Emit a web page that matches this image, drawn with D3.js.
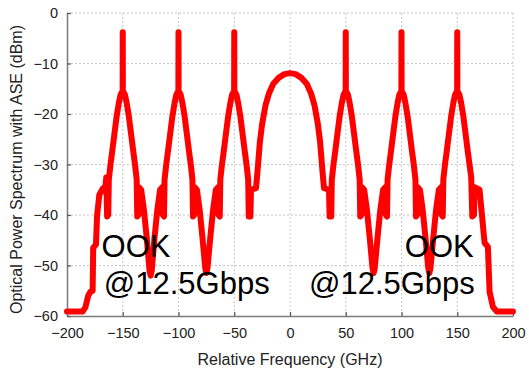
<!DOCTYPE html>
<html>
<head>
<meta charset="utf-8">
<script src="https://cdn.jsdelivr.net/npm/d3@7"></script>
<style>
  body { margin: 0; background: #fff; }
  svg { display: block; font-family: "Liberation Sans", Arial, sans-serif; }
</style>
</head>
<body>
<svg width="529" height="368"></svg>
<script>
// spectrum: [relative frequency (GHz), power (dBm)]
var spectrum = [
  [-200,-59.1],[-186,-59.1],[-183.5,-58.3],[-181,-56],[-179,-55.2],[-177,-55],[-176.5,-46.5],[-174,-45.8],
  [-173,-40],[-171,-36],[-168,-34.8],[-165.5,-34.3],[-164.8,-32.6],[-164,-40.3],[-163,-40],[-162.5,-33],
  // -150 channel
  [-161,-30],[-159.5,-27.5],[-157.5,-24],[-155.5,-20.5],[-153.5,-17.8],[-152,-16.2],[-150.6,-15.6],[-150.1,-15.5],
  [-150,-3.8],[-149.9,-15.5],[-149.4,-15.6],[-148,-16.2],[-146.5,-17.8],[-144.5,-20.5],[-142.5,-24],[-140.5,-27.5],
  [-139,-30],[-137.5,-33],[-137,-40.3],[-136,-40],[-135.5,-34.5],[-133.5,-35],
  [-131,-39],[-128.5,-44.5],[-126,-51],[-125,-52],[-124,-51],[-121.5,-44.5],[-119,-39],[-116.5,-35],
  [-114.5,-34.5],[-114,-40],[-113,-40.3],[-112.5,-33],
  // -100 channel
  [-111,-30],[-109.5,-27.5],[-107.5,-24],[-105.5,-20.5],[-103.5,-17.8],[-102,-16.2],[-100.6,-15.6],[-100.1,-15.5],
  [-100,-3.8],[-99.9,-15.5],[-99.4,-15.6],[-98,-16.2],[-96.5,-17.8],[-94.5,-20.5],[-92.5,-24],[-90.5,-27.5],
  [-89,-30],[-87.5,-33],[-87,-40.3],[-86,-40],[-85.5,-34.5],[-83.5,-35],
  [-81,-39],[-78.5,-44.5],[-76,-50.5],[-75,-51.5],[-74,-50.5],[-71.5,-44.5],[-69,-39],[-66.5,-35],
  [-64.5,-34.5],[-64,-40],[-63,-40.3],[-62.5,-33],
  // -50 channel
  [-61,-30],[-59.5,-27.5],[-57.5,-24],[-55.5,-20.5],[-53.5,-17.8],[-52,-16.2],[-50.6,-15.6],[-50.1,-15.5],
  [-50,-3.8],[-49.9,-15.5],[-49.4,-15.6],[-48,-16.2],[-46.5,-17.8],[-44.5,-20.5],[-42.5,-24],[-40.5,-27.5],
  [-39,-30],[-37.5,-33],[-37,-40.3],[-35.5,-40.3],[-35,-35],[-30.5,-34.7],
  // centre lobe
  [-29,-31],[-27,-25.5],[-25,-22],[-22,-18.3],[-19,-16],[-15,-14],[-10,-12.8],[-5,-12.1],[0,-11.9],
  [5,-12.1],[10,-12.8],[15,-14],[19,-16],[22,-18.3],[25,-22],[27,-25.5],[29,-31],
  [30.5,-34.7],[35,-35],[35.5,-40.3],[37,-40.3],[37.5,-33],
  // 50 channel
  [39,-30],[40.5,-27.5],[42.5,-24],[44.5,-20.5],[46.5,-17.8],[48,-16.2],[49.4,-15.6],[49.9,-15.5],
  [50,-3.8],[50.1,-15.5],[50.6,-15.6],[52,-16.2],[53.5,-17.8],[55.5,-20.5],[57.5,-24],[59.5,-27.5],
  [61,-30],[62.5,-33],[63,-40.3],[64,-40],[64.5,-34.5],[66.5,-35],
  [69,-39],[71.5,-44.5],[74,-50.5],[75,-51.5],[76,-50.5],[78.5,-44.5],[81,-39],[83.5,-35],
  [85.5,-34.5],[86,-40],[87,-40.3],[87.5,-33],
  // 100 channel
  [89,-30],[90.5,-27.5],[92.5,-24],[94.5,-20.5],[96.5,-17.8],[98,-16.2],[99.4,-15.6],[99.9,-15.5],
  [100,-3.8],[100.1,-15.5],[100.6,-15.6],[102,-16.2],[103.5,-17.8],[105.5,-20.5],[107.5,-24],[109.5,-27.5],
  [111,-30],[112.5,-33],[113,-40.3],[114,-40],[114.5,-34.5],[116.5,-35],
  [119,-39],[121.5,-44.5],[124,-50.5],[125,-51.5],[126,-50.5],[128.5,-44.5],[131,-39],[133.5,-35],
  [135.5,-34.5],[136,-40],[137,-40.3],[137.5,-33],
  // 150 channel
  [139,-30],[140.5,-27.5],[142.5,-24],[144.5,-20.5],[146.5,-17.8],[148,-16.2],[149.4,-15.6],[149.9,-15.5],
  [150,-3.8],[150.1,-15.5],[150.6,-15.6],[152,-16.2],[153.5,-17.8],[155.5,-20.5],[157.5,-24],[159.5,-27.5],
  [161,-30],[162.5,-32.5],[163.5,-40.3],[165,-40],[165.5,-34.5],[170,-35],
  [174.5,-45.5],[177.5,-46.3],[179,-55.2],[182,-58.2],[185.5,-59.1],[200,-59.1]
];

var xTicks = [-200,-150,-100,-50,0,50,100,150,200];
var yTicks = [-60,-50,-40,-30,-20,-10,0];
var notes = [
  {f: -169, db: -48.3, text: "OOK"},
  {f: -167, db: -55.6, text: "@12.5Gbps"},
  {f: 103, db: -48.3, text: "OOK"},
  {f: 17, db: -55.6, text: "@12.5Gbps"}
];

var svg = d3.select("svg");
var x = d3.scaleLinear().domain([-200, 200]).range([67, 513]);
var y = d3.scaleLinear().domain([-60, 0]).range([316, 13]);

// dotted grid
svg.append("g").selectAll("line").data(xTicks.slice(1)).join("line")
  .attr("x1", d => x(d)).attr("x2", d => x(d))
  .attr("y1", y(0)).attr("y2", y(-60))
  .attr("stroke", "#c8c8c8").attr("stroke-dasharray", "2,2");
svg.append("g").selectAll("line").data(yTicks.slice(1)).join("line")
  .attr("x1", x(-200)).attr("x2", x(200))
  .attr("y1", d => y(d)).attr("y2", d => y(d))
  .attr("stroke", "#c8c8c8").attr("stroke-dasharray", "2,2");

// axes, ticks pointing inward
var xAxis = svg.append("g").attr("transform", "translate(0," + y(-60) + ")")
  .call(d3.axisBottom(x).tickValues(xTicks).tickSizeInner(-4).tickSizeOuter(0).tickPadding(12));
var yAxis = svg.append("g").attr("transform", "translate(" + x(-200) + ",0)")
  .call(d3.axisLeft(y).tickValues(yTicks).tickSizeInner(-4).tickSizeOuter(0).tickPadding(9));
[xAxis, yAxis].forEach(function(g){
  g.select(".domain").attr("stroke", "#7a7a7a").attr("stroke-width", 1.5);
  g.selectAll(".tick line").attr("stroke", "#555").attr("stroke-width", 1.2);
  g.selectAll(".tick text").attr("fill", "#222").attr("font-size", 14.5)
    .attr("font-family", "Liberation Sans, Arial, sans-serif");
});

// spectrum trace
var line = d3.line().x(d => x(d[0])).y(d => y(d[1]));
svg.append("path").datum(spectrum)
  .attr("d", line)
  .attr("fill", "none")
  .attr("stroke", "#ff0000")
  .attr("stroke-width", 6)
  .attr("stroke-linejoin", "round")
  .attr("stroke-linecap", "round");

// annotations
svg.append("g").selectAll("text").data(notes).join("text")
  .attr("x", d => x(d.f)).attr("y", d => y(d.db))
  .attr("font-size", 31).attr("fill", "#000")
  .text(d => d.text);

// axis titles
svg.append("text")
  .attr("x", x(0)).attr("y", 365)
  .attr("text-anchor", "middle").attr("font-size", 16).attr("fill", "#222")
  .text("Relative Frequency (GHz)");
svg.append("text")
  .attr("transform", "translate(22," + ((y(0) + y(-60)) / 2 + 5) + ") rotate(-90)")
  .attr("text-anchor", "middle").attr("font-size", 16).attr("fill", "#222")
  .text("Optical Power Spectrum with ASE (dBm)");
</script>
</body>
</html>
